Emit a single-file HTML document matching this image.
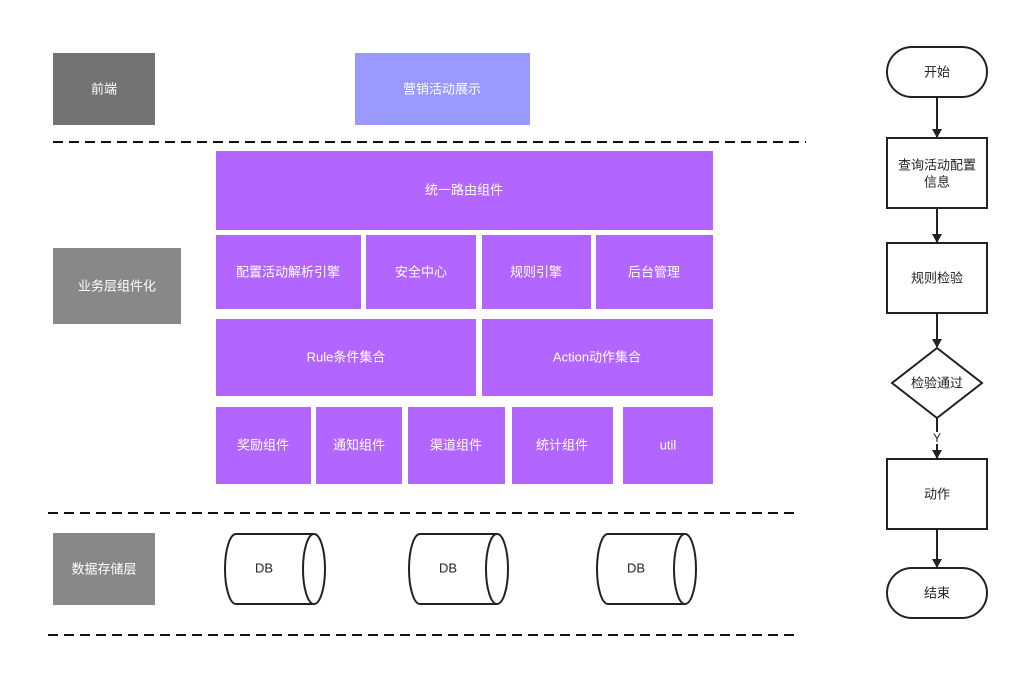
<!DOCTYPE html>
<html><head><meta charset="utf-8"><style>
body{margin:0;background:#fff}
svg text{font-family:"Liberation Sans","Noto Sans CJK SC",sans-serif;font-size:13px;text-anchor:middle;dominant-baseline:central}
.w{fill:#fff}.k{fill:#222}
</style></head><body>
<svg width="1018" height="677" viewBox="0 0 1018 677" xmlns="http://www.w3.org/2000/svg">
<defs><marker id="a" markerWidth="10" markerHeight="10" refX="8" refY="5" orient="auto" markerUnits="userSpaceOnUse"><path d="M0,0 L9,5 L0,10 Z" fill="#222"/></marker></defs>
<g stroke="#111" stroke-width="2" stroke-dasharray="10,6">
<line x1="53" y1="142" x2="806" y2="142"/>
<line x1="48" y1="513" x2="800" y2="513"/>
<line x1="48" y1="635" x2="800" y2="635"/>
</g>
<rect x="53" y="53" width="102" height="72" fill="#737373"/><text x="104" y="89" class="w">前端</text>
<rect x="355" y="53" width="175" height="72" fill="#9999ff"/><text x="442" y="89" class="w">营销活动展示</text>
<rect x="53" y="248" width="128" height="76" fill="#888"/><text x="117" y="286" class="w">业务层组件化</text>
<rect x="53" y="533" width="102" height="72" fill="#888"/><text x="104" y="569" class="w">数据存储层</text>
<g fill="#b266ff">
<rect x="216" y="151" width="497" height="79"/>
<rect x="216" y="235" width="145" height="74"/><rect x="366" y="235" width="110" height="74"/><rect x="482" y="235" width="109" height="74"/><rect x="596" y="235" width="117" height="74"/>
<rect x="216" y="319" width="260" height="77"/><rect x="482" y="319" width="231" height="77"/>
<rect x="216" y="407" width="95" height="77"/><rect x="316" y="407" width="86" height="77"/><rect x="408" y="407" width="97" height="77"/><rect x="512" y="407" width="101" height="77"/><rect x="623" y="407" width="90" height="77"/>
</g>
<text x="464" y="190" class="w">统一路由组件</text>
<text x="288" y="272" class="w">配置活动解析引擎</text><text x="421" y="272" class="w">安全中心</text><text x="536" y="272" class="w">规则引擎</text><text x="654" y="272" class="w">后台管理</text>
<text x="346" y="357" class="w">Rule条件集合</text><text x="597" y="357" class="w">Action动作集合</text>
<text x="263" y="445" class="w">奖励组件</text><text x="359" y="445" class="w">通知组件</text><text x="456" y="445" class="w">渠道组件</text><text x="562" y="445" class="w">统计组件</text><text x="668" y="445" class="w">util</text>
<g fill="#fff" stroke="#222" stroke-width="2">
<path d="M314,534 L236,534 A11,35 0 0 0 236,604 L314,604"/><ellipse cx="314" cy="569" rx="11" ry="35"/>
<path d="M497,534 L420,534 A11,35 0 0 0 420,604 L497,604"/><ellipse cx="497" cy="569" rx="11" ry="35"/>
<path d="M685,534 L608,534 A11,35 0 0 0 608,604 L685,604"/><ellipse cx="685" cy="569" rx="11" ry="35"/>
</g>
<text x="264" y="568" class="k">DB</text><text x="448" y="568" class="k">DB</text><text x="636" y="568" class="k">DB</text>
<g fill="#fff" stroke="#222" stroke-width="2">
<rect x="887" y="47" width="100" height="50" rx="25"/>
<rect x="887" y="138" width="100" height="70"/>
<rect x="887" y="243" width="100" height="70"/>
<polygon points="937,348 982,383 937,418 892,383"/>
<rect x="887" y="459" width="100" height="70"/>
<rect x="887" y="568" width="100" height="50" rx="25"/>
</g>
<g stroke="#222" stroke-width="2" marker-end="url(#a)">
<line x1="937" y1="97" x2="937" y2="137"/>
<line x1="937" y1="208" x2="937" y2="242"/>
<line x1="937" y1="313" x2="937" y2="347"/>
<line x1="937" y1="418" x2="937" y2="458"/>
<line x1="937" y1="529" x2="937" y2="567"/>
</g>
<rect x="930" y="432" width="14" height="12" fill="#fff"/>
<text x="937" y="438" class="k" style="font-size:12px">Y</text>
<text x="937" y="72" class="k">开始</text>
<text x="937" y="165" class="k">查询活动配置</text><text x="937" y="182" class="k">信息</text>
<text x="937" y="278" class="k">规则检验</text>
<text x="937" y="383" class="k">检验通过</text>
<text x="937" y="494" class="k">动作</text>
<text x="937" y="593" class="k">结束</text>
</svg>
</body></html>
